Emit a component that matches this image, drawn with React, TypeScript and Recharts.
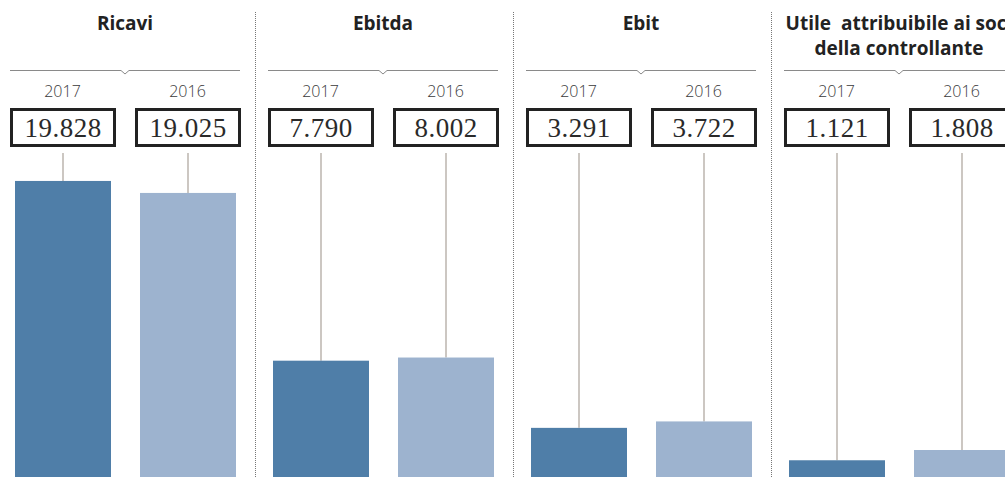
import React from "react";
import { BarChart, Bar, XAxis, YAxis, Cell, LabelList } from "recharts";

// anni e valori (milioni di euro)
const years = ["2017", "2016"];
const titles = [
  ["Ricavi"],
  ["Ebitda"],
  ["Ebit"],
  ["Utile  attribuibile ai soci", "della controllante"],
];
const ricavi = [19828, 19025];
const ebitda = [7790, 8002];
const ebit = [3291, 3722];
const utile = [1121, 1808];
const barColors = ["#4f7ea8", "#9db3cf"];

const series = [ricavi, ebitda, ebit, utile];

const W = 1005;
const H = 477;
const STEP = 258;
const PANEL_W = 250;
const PLOT_TOP = 153;
const Y_MAX = 21700;

const fmt = (v: number) => String(v).replace(/\B(?=(\d{3})+(?!\d))/g, ".");

const YearTick = (props: any) => {
  const { x, payload } = props;
  return (
    <text
      x={x}
      y={97}
      textAnchor="middle"
      fontSize={16}
      fontWeight={300}
      fill="#3a3a3a"
      fontFamily="'Open Sans', sans-serif"
    >
      {payload.value}
    </text>
  );
};

const StemBar = (props: any) => {
  const { x, y, width, height, fill } = props;
  const cx = x + width / 2;
  return (
    <g>
      <line x1={cx} x2={cx} y1={PLOT_TOP} y2={y} stroke="#ccc7c2" strokeWidth={2} />
      <rect x={x} y={y} width={width} height={height} fill={fill} />
    </g>
  );
};

const ValueBox = (props: any) => {
  const { x, width, value } = props;
  const bx = Number(x);
  const bw = Number(width);
  return (
    <g>
      <rect
        x={bx - 3.5}
        y={109.5}
        width={bw + 7}
        height={36}
        fill="#fff"
        stroke="#222"
        strokeWidth={3}
      />
      <text
        x={bx + bw / 2}
        y={137}
        textAnchor="middle"
        fontSize={27}
        letterSpacing={0.5}
        fill="#2a2a2a"
        fontFamily="'Liberation Serif', serif"
      >
        {fmt(Number(value))}
      </text>
    </g>
  );
};

const Panel = ({ values, left }: { values: number[]; left: number }) => {
  const data = years.map((year, i) => ({ year, value: values[i] }));
  return (
    <div style={{ position: "absolute", left, top: 0 }}>
      <BarChart
        width={PANEL_W}
        height={H}
        data={data}
        margin={{ top: PLOT_TOP - 30, right: 0, left: 0, bottom: 0 }}
      >
        <XAxis
          dataKey="year"
          orientation="top"
          height={30}
          axisLine={false}
          tickLine={false}
          interval={0}
          tick={<YearTick />}
        />
        <YAxis hide domain={[0, Y_MAX]} />
        <Bar dataKey="value" barSize={96} shape={<StemBar />} isAnimationActive={false}>
          {data.map((d, i) => (
            <Cell key={d.year} fill={barColors[i]} />
          ))}
          <LabelList dataKey="value" content={<ValueBox />} />
        </Bar>
      </BarChart>
    </div>
  );
};

export default function App() {
  return (
    <div
      style={{
        position: "absolute",
        left: 0,
        top: 0,
        width: W,
        height: H,
        overflow: "hidden",
        background: "#fff",
      }}
    >
      <svg width={W} height={H} style={{ position: "absolute", left: 0, top: 0 }}>
        {titles.map((lines, k) => {
          const L = k * STEP;
          return (
            <g key={k}>
              {lines.map((t, j) => (
                <text
                  key={j}
                  x={L + 125}
                  y={30 + j * 25}
                  textAnchor="middle"
                  fontSize={19}
                  fontWeight={700}
                  fill="#222"
                  fontFamily="'Open Sans', sans-serif"
                  style={{ whiteSpace: "pre" }}
                >
                  {t}
                </text>
              ))}
              <path
                d={`M${L + 10} 70.5 H${L + 121} l4 3.5 l4 -3.5 H${L + 240}`}
                fill="none"
                stroke="#8a8a8a"
                strokeWidth={1}
              />
              {k < titles.length - 1 && (
                <line
                  x1={L + 255.5}
                  x2={L + 255.5}
                  y1={12}
                  y2={H}
                  stroke="#777"
                  strokeWidth={1}
                  strokeDasharray="1 1"
                />
              )}
            </g>
          );
        })}
      </svg>
      {series.map((values, k) => (
        <Panel key={k} values={values} left={k * STEP} />
      ))}
    </div>
  );
}
